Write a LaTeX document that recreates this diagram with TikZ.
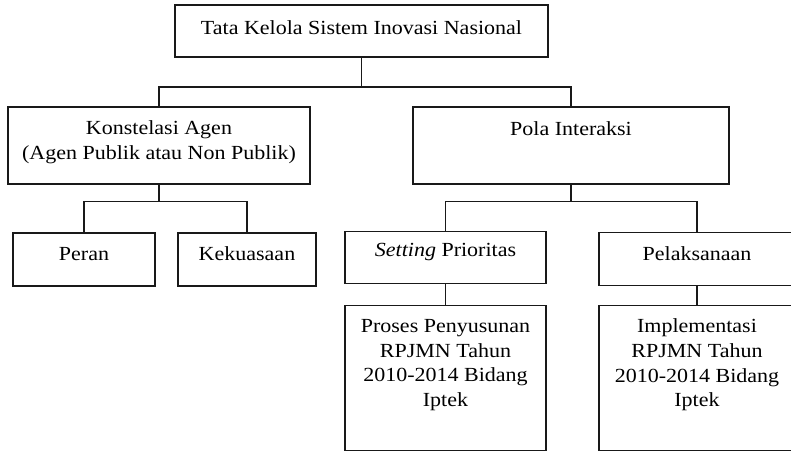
\documentclass[tikz,border=0pt]{standalone}
\usepackage{fontspec}
\setmainfont{Liberation Serif}[FakeStretch=1.1]
\begin{document}
\begin{tikzpicture}[x=1pt,y=-1pt,
  box/.style={draw=black!90,line width=1.8pt,rectangle,inner sep=0pt},
  label/.style={align=center,inner sep=0pt,font=\fontsize{20}{24.6}\selectfont},
  link/.style={draw=black!90,line width=1.8pt}]
\useasboundingbox (0,0) rectangle (791,452);
\fill[white] (0,0) rectangle (791,452);
\clip (0,0) rectangle (791,452);

% boxes
\node[box,minimum width=373pt,minimum height=52pt] (top) at (361.5,31) {};
\node[box,minimum width=302pt,minimum height=77pt] (konst) at (159,145.5) {};
\node[box,minimum width=316pt,minimum height=77pt] (pola) at (571,145.5) {};
\node[box,minimum width=142pt,minimum height=53pt] (peran) at (84,259.5) {};
\node[box,minimum width=138pt,minimum height=53pt] (kuasa) at (247,259.5) {};
\node[box,minimum width=201pt,minimum height=52pt] (setting) at (445.5,257.5) {};
\node[box,minimum width=196pt,minimum height=53pt] (pelak) at (697,259) {};
\node[box,minimum width=201pt,minimum height=145pt] (proses) at (445.5,378) {};
\node[box,minimum width=196pt,minimum height=145pt] (impl) at (697,378) {};

% texts
\node[label] (ttop) at (361.5,28) {Tata Kelola Sistem Inovasi Nasional};
\node[label] (tkonst) at (159,142) {Konstelasi Agen\\(Agen Publik atau Non Publik)};
\node[label] (tpola) at (571,129) {Pola Interaksi};
\node[label] (tperan) at (84,254) {Peran};
\node[label] (tkuasa) at (247,254) {Kekuasaan};
\node[label] (tsetting) at (445.5,252) {\textit{Setting} Prioritas};
\node[label] (tpelak) at (697,254) {Pelaksanaan};
\node[label] (tproses) at (445.5,365) {Proses Penyusunan\\RPJMN Tahun\\2010-2014 Bidang\\Iptek};
\node[label] (timpl) at (697,365) {Implementasi\\RPJMN Tahun\\2010-2014 Bidang\\Iptek};

% connectors
\coordinate (j1) at (top.south |- 0,87);
\draw[link] (top.south) -- (j1);
\draw[link] (j1) -| (konst.north);
\draw[link] (j1) -| (pola.north);

\coordinate (j2) at (konst.south |- 0,201.5);
\draw[link] (konst.south) -- (j2);
\draw[link] (j2) -| (peran.north);
\draw[link] (j2) -| (kuasa.north);

\coordinate (j3) at (pola.south |- 0,201.5);
\draw[link] (pola.south) -- (j3);
\draw[link] (j3) -| (setting.north);
\draw[link] (j3) -| (pelak.north);

\draw[link] (setting.south) -- (proses.north);
\draw[link] (pelak.south) -- (impl.north);
\end{tikzpicture}
\end{document}
